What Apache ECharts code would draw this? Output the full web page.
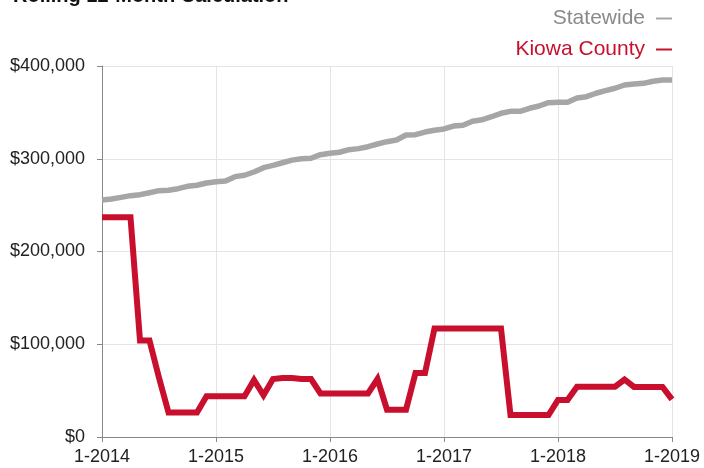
<!DOCTYPE html>
<html>
<head>
<meta charset="utf-8">
<script src="https://cdn.jsdelivr.net/npm/echarts@6/dist/echarts.min.js"></script>
<style>html,body{margin:0;padding:0;background:#fff;}#c{width:704px;height:468px;}</style>
</head>
<body>
<div id="c"></div>
<script>
// Months 1-2014 .. 1-2019
const categories = [];
for (let y = 2014; y <= 2019; y++) {
  for (let m = 1; m <= 12; m++) {
    if (y === 2019 && m > 1) break;
    categories.push(m + '-' + y);
  }
}
const statewide = [
  255500,256600,258400,260200,261300,263400,265600,266000,267700,270300,
  271400,273900,275300,276000,280700,282200,285700,290400,292900,295700,
  298500,300000,300500,304400,305900,307000,309800,310900,313000,315900,
  318400,320200,325600,326000,328800,330700,332100,335300,336100,340400,
  342000,345300,349000,351100,351100,354400,356900,360500,360900,360900,
  365500,366900,370600,373400,376000,379500,380600,381300,383500,384900,
  384900
];
const kiowa = [
  237000,237000,237000,237000,104000,104000,64000,26500,26500,26500,
  26500,44000,44000,44000,44000,44000,61500,45000,62500,63500,
  63500,62500,62500,47000,47000,47000,47000,47000,47000,62500,
  29500,29500,29500,69000,69000,117000,117000,117000,117000,117000,
  117000,117000,117000,23700,23700,23700,23700,23700,40000,40000,
  54300,54300,54300,54300,54300,62000,54000,54000,54000,54000,
  40500
];
const titleText = 'Rolling 12-Month Calculation';
const seriesNames = ['Statewide', 'Kiowa County'];

const GRAY = '#a6a6a6';
const RED = '#c8102e';
const FONT = '"Liberation Sans", Arial, Helvetica, sans-serif';

const chart = echarts.init(document.getElementById('c'), null, {renderer: 'canvas'});
chart.setOption({
  animation: false,
  backgroundColor: '#fff',
  textStyle: {fontFamily: FONT},
  graphic: [{
    type: 'text', left: 13, top: -14,
    style: {text: titleText, font: 'bold 20px ' + FONT, fill: '#111'}
  }],
  legend: {
    orient: 'vertical',
    right: 32, top: 8,
    padding: 0,
    align: 'right',
    itemGap: 10,
    itemWidth: 16, itemHeight: 2,
    icon: 'rect',
    textStyle: {fontSize: 21, fontFamily: FONT, padding: [0, 6, 0, 0]},
    data: [
      {name: seriesNames[0], textStyle: {color: '#8a8a8a'}, itemStyle: {color: GRAY}},
      {name: seriesNames[1], textStyle: {color: RED}, itemStyle: {color: RED}}
    ]
  },
  grid: {left: 102, right: 32, top: 66, bottom: 31, containLabel: false},
  xAxis: {
    type: 'category',
    data: categories,
    boundaryGap: false,
    axisLine: {show: true, lineStyle: {color: '#888', width: 1}},
    axisTick: {show: true, interval: 11, length: 5, lineStyle: {color: '#888'}},
    axisLabel: {interval: 11, color: '#222', fontSize: 18, margin: 11, fontFamily: FONT},
    splitLine: {show: true, interval: 11, lineStyle: {color: '#e4e4e4', width: 1}}
  },
  yAxis: {
    type: 'value',
    min: 0, max: 400000, interval: 100000,
    axisLine: {show: true, lineStyle: {color: '#888', width: 1}},
    axisTick: {show: true, length: 5, lineStyle: {color: '#888'}},
    axisLabel: {
      color: '#222', fontSize: 18, margin: 17, fontFamily: FONT,
      formatter: v => '$' + v.toLocaleString('en-US')
    },
    splitLine: {show: true, lineStyle: {color: '#e4e4e4', width: 1}}
  },
  series: [
    {
      name: seriesNames[0], type: 'line', data: statewide,
      showSymbol: false, symbol: 'none',
      lineStyle: {color: GRAY, width: 5.5, join: 'round'},
      itemStyle: {color: GRAY}
    },
    {
      name: seriesNames[1], type: 'line', data: kiowa,
      showSymbol: false, symbol: 'none',
      lineStyle: {color: RED, width: 6, join: 'miter'},
      itemStyle: {color: RED}
    }
  ]
});
</script>
</body>
</html>
